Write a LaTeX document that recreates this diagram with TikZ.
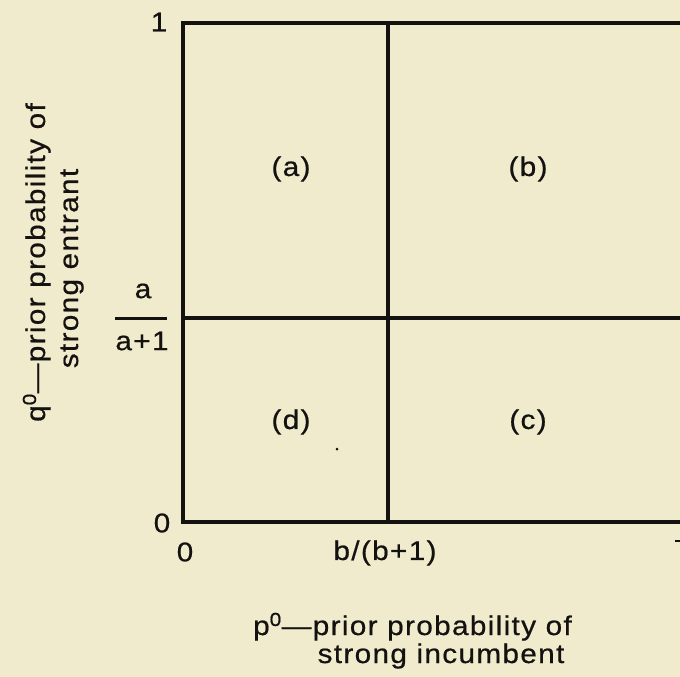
\documentclass[tikz,border=0pt]{standalone}
\usepackage{fontspec}
\setmainfont{Liberation Sans}[FakeStretch=1.1,LetterSpace=5,FakeBold=0.6]
\definecolor{paper}{RGB}{240,235,204}
\definecolor{ink}{RGB}{20,18,16}
\begin{document}
\begin{tikzpicture}[x=1pt,y=-1pt,
  lbl/.style={font=\fontsize{27}{32}\selectfont, inner sep=0pt, text=ink},
  frame/.style={line width=3.2pt, draw=ink, line cap=rect},
  fracbar/.style={line width=3pt, draw=ink}]
\useasboundingbox (0,0) rectangle (680,677);
\clip (0,0) rectangle (680,677);
\fill[paper] (0,0) rectangle (680,677);
% frame coordinates
\coordinate (tl) at (183,23);
\coordinate (bl) at (183,522);
\coordinate (tr) at (700,23);
\coordinate (br) at (700,522);
\coordinate (vt) at (388,23);
\coordinate (vb) at (388,522);
\coordinate (hl) at (183,318);
\coordinate (hr) at (700,318);
\draw[frame] (tr) -- (tl) -- (bl) -- (br);
\draw[frame] (vt) -- (vb);
\draw[frame] (hl) -- (hr);
% region labels
\node[lbl] (ra) at (291,169) {(a)};
\node[lbl] (rb) at (528,169) {(b)};
\node[lbl] (rd) at (291,422) {(d)};
\node[lbl] (rc) at (528,422) {(c)};
\fill[ink] (337,449) circle (1.5);
% axis ticks
\node[lbl] (yone) at (159,22) {1};
\node[lbl] (yzero) at (162,523) {0};
\node[lbl] (xzero) at (185,552) {0};
\node[lbl] (xb) at (385,553) {b/(b+1)};
% sliver of the cut-off tick label at the right edge
\coordinate (sl) at (675,541);
\coordinate (sr) at (680,541);
\draw[ink, line width=2.5pt] (sl) -- (sr);
% fraction a/(a+1)
\node[lbl] (fa) at (143,291) {a};
\node[lbl] (fa1) at (142,341) {a+1};
\coordinate (fbl) at (115,318);
\coordinate (fbr) at (167,318);
\draw[fracbar] (fbl) -- (fbr);
% axis titles
\node[lbl, anchor=base] (xt1) at (412.5,635) {p\textsuperscript{0}—prior probability of};
\node[lbl, anchor=base] (xt2) at (441,663) {strong incumbent};
\node[lbl, anchor=base, rotate=90] (yt1) at (45,262.5) {q\textsuperscript{0}—prior probability of};
\node[lbl, anchor=base, rotate=90] (yt2) at (78,268.5) {strong entrant};
\end{tikzpicture}
\end{document}
